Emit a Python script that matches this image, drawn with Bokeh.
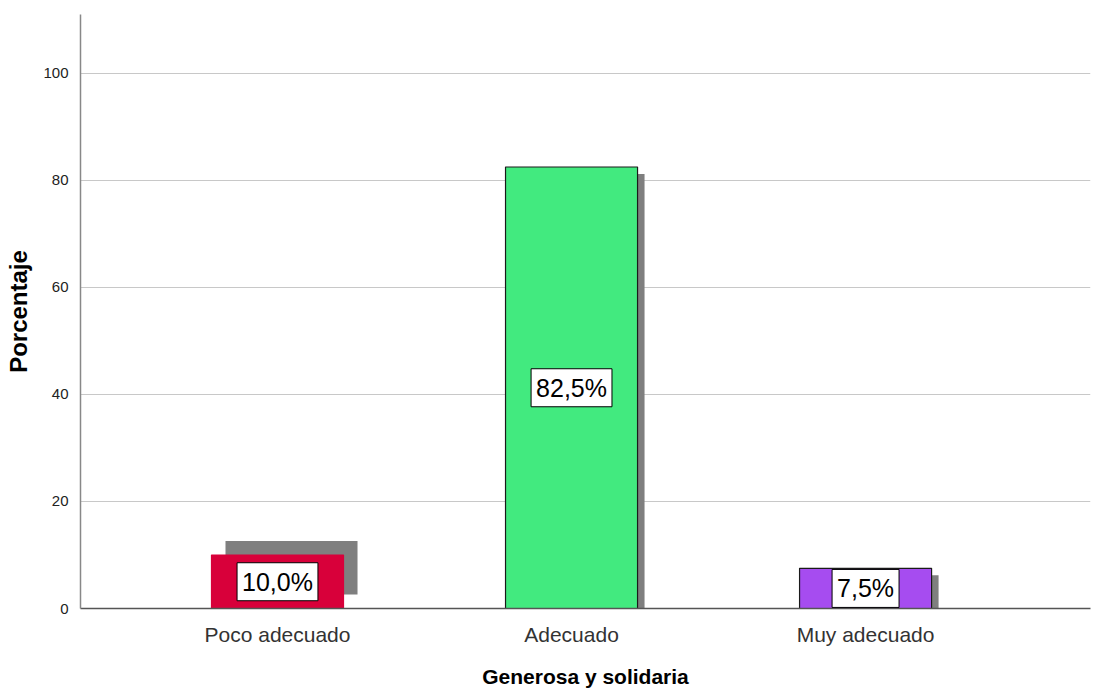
from bokeh.plotting import figure
from bokeh.models import ColumnDataSource, Label, FixedTicker, Range1d
from bokeh.embed import file_html
from bokeh.resources import INLINE

# ---- data ----
categories = ["Poco adecuado", "Adecuado", "Muy adecuado"]
percentages = [10.0, 82.5, 7.5]
labels = ["10,0%", "82,5%", "7,5%"]
colors = ["#d8003a", "#42ea7f", "#a64cf0"]
outline_colors = ["#d8003a", "#1a1a1a", "#1a1a1a"]
y_ticks = [0, 20, 40, 60, 80, 100]

positions = [i + 1 for i in range(len(categories))]
half_w = 0.449 / 2
px_x = 1 / 294.0    # data units per pixel (x)
px_y = 1 / 5.35     # data units per pixel (y)
# shadow offsets in pixels (dx, dy up)
shadow_px = [(14, 14), (7, -7), (7, -7)]

src = ColumnDataSource(dict(
    x=positions,
    left=[p - half_w for p in positions],
    right=[p + half_w for p in positions],
    top=percentages,
    bottom=[0] * len(percentages),
    color=colors,
    line=outline_colors,
    s_left=[p - half_w + dx * px_x for p, (dx, dy) in zip(positions, shadow_px)],
    s_right=[p + half_w + dx * px_x for p, (dx, dy) in zip(positions, shadow_px)],
    s_top=[v + dy * px_y for v, (dx, dy) in zip(percentages, shadow_px)],
    s_bottom=[dy * px_y for (dx, dy) in shadow_px],
))

p = figure(width=1096, height=690, output_backend="svg", toolbar_location=None,
           x_range=Range1d(0.330, 3.765), y_range=Range1d(0, 111),
           min_border_left=80, min_border_right=6, min_border_top=14, min_border_bottom=82)
p.outline_line_color = None
p.background_fill_color = "white"

# shadows
p.quad(left="s_left", right="s_right", top="s_top", bottom="s_bottom", source=src,
       fill_color="#7f7f7f", line_color=None)
# bars
p.quad(left="left", right="right", top="top", bottom="bottom", source=src,
       fill_color="color", line_color="line", line_width=1.2)

# value labels
for xpos, val, txt in zip(positions, percentages, labels):
    p.add_layout(Label(x=xpos, y=val / 2, text=txt,
                       text_align="center", text_baseline="middle",
                       text_font="Liberation Sans", text_font_size="25px", text_color="black",
                       background_fill_color="white", border_line_color="black",
                       border_line_width=1, padding=5))

# axes
p.xaxis.ticker = FixedTicker(ticks=positions)
p.xaxis.major_label_overrides = {pos: c for pos, c in zip(positions, categories)}
p.xaxis.major_tick_line_color = None
p.xaxis.minor_tick_line_color = None
p.xaxis.axis_line_color = "#555555"
p.xaxis.axis_line_width = 1.5
p.xaxis.major_label_text_font = "Liberation Sans"
p.xaxis.major_label_text_font_size = "21px"
p.xaxis.major_label_text_color = "#333333"
p.xaxis.major_label_standoff = 8
p.xaxis.axis_label = "Generosa y solidaria"
p.xaxis.axis_label_text_font = "Liberation Sans"
p.xaxis.axis_label_text_font_style = "bold"
p.xaxis.axis_label_text_font_size = "21px"
p.xaxis.axis_label_text_color = "black"
p.xaxis.axis_label_standoff = 16

p.yaxis.ticker = FixedTicker(ticks=y_ticks)
p.yaxis.major_tick_line_color = None
p.yaxis.minor_tick_line_color = None
p.yaxis.axis_line_color = "#888888"
p.yaxis.axis_line_width = 1.5
p.yaxis.major_label_text_font = "Liberation Sans"
p.yaxis.major_label_text_font_size = "15px"
p.yaxis.major_label_text_color = "#222222"
p.yaxis.major_label_standoff = 6
p.yaxis.axis_label = "Porcentaje"
p.yaxis.axis_label_text_font = "Liberation Sans"
p.yaxis.axis_label_text_font_style = "bold"
p.yaxis.axis_label_text_font_size = "24px"
p.yaxis.axis_label_text_color = "black"
p.yaxis.axis_label_standoff = 8

p.xgrid.grid_line_color = None
p.ygrid.grid_line_color = "#c8c8c8"
p.ygrid.grid_line_width = 1

open("out.html", "w").write(file_html(p, INLINE))
